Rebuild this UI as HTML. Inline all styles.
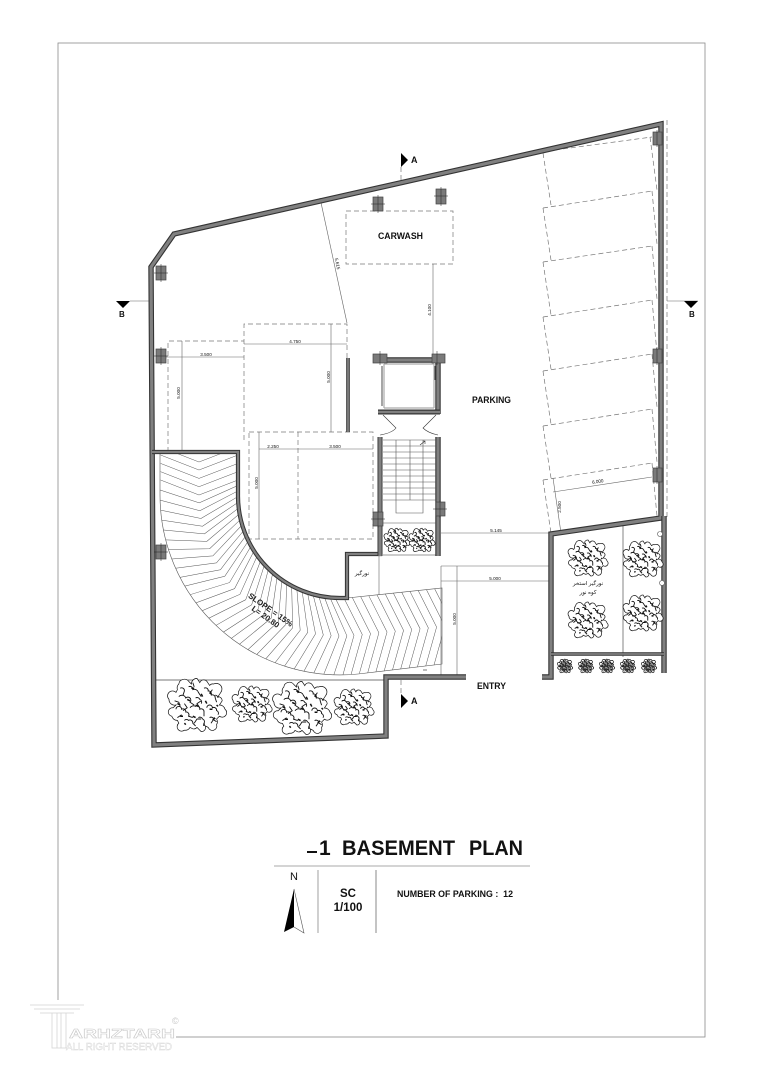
<!DOCTYPE html>
<html><head><meta charset="utf-8"><style>
html,body{margin:0;padding:0;background:#fff}
svg{display:block}
text{font-family:"Liberation Sans","Noto Sans CJK SC","DejaVu Sans",sans-serif;fill:#111}
.d{fill:none;stroke:#777;stroke-width:.7;stroke-dasharray:5 3}
.t{fill:none;stroke:#666;stroke-width:.6}
.dl{font-size:4.6px;fill:#555;text-anchor:middle}
.w1{fill:none;stroke:#333;stroke-width:5.4;stroke-linejoin:miter}
.w2{fill:none;stroke:#808080;stroke-width:3.2;stroke-linejoin:miter}
.c{fill:#7a7a7a;stroke:#444;stroke-width:.7}
.b{font-weight:bold;font-size:9px}
</style></head><body>
<svg width="764" height="1080" viewBox="0 0 764 1080" xmlns="http://www.w3.org/2000/svg">
<defs>
<clipPath id="rc"><path d="M160,452 L237,452 L237,495 A103,103 0 0 0 340,598 L347,598 L442,588 L442,664 L358,674 A180,180 0 0 1 160,495 Z"/></clipPath>
<polyline id="ch" points="160.6,480 199,495 238,480" fill="none" stroke="#555" stroke-width=".5"/>
<g id="tr" fill="none" stroke="#111">
<path vector-effect="non-scaling-stroke" stroke-width=".7" fill="#fff" d="M0,-19 L2,-16 A3,3 0 0 1 7,-17 L9,-14 A3,3 0 0 1 12,-15 A4,4 0 0 1 17,-9 L15,-6 A3,3 0 0 1 18,-3 L16,0 A4,4 0 0 1 20,3 A3,3 0 0 1 16,8 L14,10 A4,4 0 0 1 14,14 A3,3 0 0 1 8,16 L6,15 A3,3 0 0 1 3,19 L0,16 A3,3 0 0 1 -3,17 L-5,16 A4,4 0 0 1 -9,18 A3,3 0 0 1 -13,13 L-14,11 A4,4 0 0 1 -18,8 A3,3 0 0 1 -17,2 L-15,0 A4,4 0 0 1 -20,-4 A3,3 0 0 1 -15,-9 L-14,-11 A4,4 0 0 1 -13,-15 A4,4 0 0 1 -6,-17 L-4,-15 A4,4 0 0 1 0,-19 Z"/>
<path vector-effect="non-scaling-stroke" stroke-width=".9" d="M-13,-6 a3,3 0 0 1 5,1 a2,2 0 0 1 3,3 l3,2 M-6,-13 a2,2 0 0 1 3,2 a3,3 0 0 1 4,2 l2,3 M5,-12 a2,2 0 0 1 3,2 a2,2 0 0 1 2,3 a2,2 0 0 1 3,2 l1,3 M-15,3 a2,2 0 0 1 4,0 a2,2 0 0 1 3,2 a2,2 0 0 1 2,3 l3,1 M-5,2 a3,3 0 0 1 4,-1 a2,2 0 0 1 3,2 a2,2 0 0 1 3,2 l0,3 M7,2 a2,2 0 0 1 4,0 a2,2 0 0 1 3,2 a2,2 0 0 1 1,3 M-9,11 a2,2 0 0 1 3,0 a2,2 0 0 1 3,2 l2,2 M1,9 a2,2 0 0 1 3,1 a2,2 0 0 1 1,3 M9,9 a2,2 0 0 1 3,1 l-2,3 M-1,-5 a2,2 0 0 1 3,1 a2,2 0 0 1 1,3 M-12,-12 a2,2 0 0 1 3,2 l-1,3 M13,-7 a2,2 0 0 1 2,2 M-16,-3 l3,1 l1,3 M-3,-16 l1,3 M3,-3 l-3,2 l2,3 M-9,-1 l2,3 l-3,2 M11,-11 l-2,3 M14,12 l-3,-2 M-2,13 l2,-3 l3,0 M-14,9 l3,-2"/>
<path vector-effect="non-scaling-stroke" stroke-width="1.5" d="M-7,-4 l2,1 M3,-8 l1,2 M9,3 l2,0 M-3,8 l2,1 M12,9 l1,1 M-12,8 l2,0 M5,13 l0,2 M-4,-12 l2,0 M-1,0 l2,1 M-14,-1 l2,1 M6,-3 l1,2 M14,0 l1,1 M-9,13 l1,1 M9,-9 l1,1"/>
</g>
</defs>
<rect width="764" height="1080" fill="#fff"/>
<rect x="58" y="43" width="647" height="994" fill="none" stroke="#8a8a8a" stroke-width=".8"/>

<!-- ramp -->
<g clip-path="url(#rc)">
<use href="#ch" transform="translate(0,-33)"/><use href="#ch" transform="translate(0,-25)"/><use href="#ch" transform="translate(0,-16.6)"/><use href="#ch" transform="translate(0,-8.3)"/>
<use href="#ch"/>
<use href="#ch" transform="rotate(-3.2 340 495)"/><use href="#ch" transform="rotate(-6.4 340 495)"/><use href="#ch" transform="rotate(-9.6 340 495)"/><use href="#ch" transform="rotate(-12.8 340 495)"/><use href="#ch" transform="rotate(-16 340 495)"/>
<use href="#ch" transform="rotate(-19.2 340 495)"/><use href="#ch" transform="rotate(-22.4 340 495)"/><use href="#ch" transform="rotate(-25.6 340 495)"/><use href="#ch" transform="rotate(-28.8 340 495)"/><use href="#ch" transform="rotate(-32 340 495)"/>
<use href="#ch" transform="rotate(-35.2 340 495)"/><use href="#ch" transform="rotate(-38.4 340 495)"/><use href="#ch" transform="rotate(-41.6 340 495)"/><use href="#ch" transform="rotate(-44.8 340 495)"/><use href="#ch" transform="rotate(-48 340 495)"/>
<use href="#ch" transform="rotate(-51.2 340 495)"/><use href="#ch" transform="rotate(-54.4 340 495)"/><use href="#ch" transform="rotate(-57.6 340 495)"/><use href="#ch" transform="rotate(-60.8 340 495)"/><use href="#ch" transform="rotate(-64 340 495)"/>
<use href="#ch" transform="rotate(-67.2 340 495)"/><use href="#ch" transform="rotate(-70.4 340 495)"/><use href="#ch" transform="rotate(-73.6 340 495)"/><use href="#ch" transform="rotate(-76.8 340 495)"/><use href="#ch" transform="rotate(-80 340 495)"/>
<use href="#ch" transform="rotate(-83.2 340 495)"/><use href="#ch" transform="rotate(-86.4 340 495)"/><use href="#ch" transform="rotate(-89.6 340 495)"/><use href="#ch" transform="rotate(-92.8 340 495)"/><use href="#ch" transform="rotate(-95.7 340 495)"/>
<use href="#ch" transform="rotate(-95.7 340 495) translate(0,8.3)"/><use href="#ch" transform="rotate(-95.7 340 495) translate(0,16.6)"/><use href="#ch" transform="rotate(-95.7 340 495) translate(0,25)"/><use href="#ch" transform="rotate(-95.7 340 495) translate(0,33.2)"/><use href="#ch" transform="rotate(-95.7 340 495) translate(0,41.5)"/>
<use href="#ch" transform="rotate(-95.7 340 495) translate(0,49.8)"/><use href="#ch" transform="rotate(-95.7 340 495) translate(0,58)"/><use href="#ch" transform="rotate(-95.7 340 495) translate(0,66.4)"/><use href="#ch" transform="rotate(-95.7 340 495) translate(0,74.7)"/><use href="#ch" transform="rotate(-95.7 340 495) translate(0,83)"/><use href="#ch" transform="rotate(-95.7 340 495) translate(0,91.3)"/><use href="#ch" transform="rotate(-95.7 340 495) translate(0,99.6)"/>
</g>
<path d="M160,452 L160,495 A180,180 0 0 0 358,674 L442,664 L442,588 L347,598" fill="none" stroke="#555" stroke-width=".6"/>

<!-- dashed areas -->
<g class="d">
<rect x="346" y="211" width="107" height="53"/>
<path d="M244,440 V324 H347 V358"/>
<path d="M168,452 V341 H244"/>
<rect x="249" y="432" width="124" height="107"/>
<path d="M298,432 V539"/>
<path d="M401,167 V181 M401,680 V694"/>
<path d="M667,120 V517"/>
<path d="M555,150 L652,137 M543,208 L652,191 M543,262 L652,246 M543,317 L652,300 M543,371 L652,354 M543,426 L652,409 M543,480 L652,463"/>
<path d="M543,153 L551,205 M543,208 L551,260 M543,262 L551,315 M543,317 L551,369 M543,371 L551,424 M543,426 L551,478 M543,480 L551,533"/>
<path d="M650,137 L657,190 M652,191 L657,244 M652,246 L657,299 M652,300 L657,353 M652,354 L657,407 M652,409 L657,462 M652,463 L657,516"/>
</g>

<!-- dimension lines -->
<g class="t">
<path d="M320,198 L347,323"/>
<path d="M433,264 V358"/>
<path d="M244,344 H347"/>
<path d="M156,357 H244"/>
<path d="M182,341 V452"/>
<path d="M331,324 V432"/>
<path d="M259,449 H373"/>
<path d="M259,432 V539"/>
<path d="M441,533 H551"/>
<path d="M441,566 H551 M441,581 H551"/>
<path d="M441,566 V676 M457,566 V676"/>
<path d="M553,492 L652,477"/>
<path d="M553,478 L561,533"/>
<path d="M379,553 V595"/>
<path d="M130,301 H150 M667,301 H698"/>
<path d="M152,680 H385" stroke="#777" stroke-width=".9"/>
<path d="M623,525 V657" stroke="#333"/>
<path d="M427,670 H423" stroke="#222"/>
</g>
<g class="dl">
<text x="273" y="448">2.250</text>
<text x="335" y="448">3.500</text>
<text x="295" y="343">4.750</text>
<text x="206" y="356">3.500</text>
<text transform="translate(180,393) rotate(-90)">5.000</text>
<text transform="translate(330,377) rotate(-90)">5.000</text>
<text transform="translate(258,483) rotate(-90)">5.000</text>
<text transform="translate(431,310) rotate(-90)">4.100</text>
<text transform="translate(336,264) rotate(78)">5.615</text>
<text x="496" y="532">5.145</text>
<text x="495" y="580">5.000</text>
<text transform="translate(456,619) rotate(-90)">5.000</text>
<text transform="translate(598,483) rotate(-8.5)">6.000</text>
<text transform="translate(561,507) rotate(-90)">2.500</text>
</g>

<!-- walls -->
<g>
<path class="w1" d="M466,677 H386 V736 L154,745 L151,267 L174,234 L661,124 L661,518 L551,534 V677 H542"/>
<path class="w2" d="M466,677 H386 V736 L154,745 L151,267 L174,234 L661,124 L661,518 L551,534 V677 H542"/>
<path class="w1" style="stroke-width:4.2" d="M152,452 H238 V495 A102,102 0 0 0 340,598 H347 V554 H380 V437"/>
<path class="w2" style="stroke-width:2.2" d="M152,452 H238 V495 A102,102 0 0 0 340,598 H347 V554 H380 V437"/>
<path class="w1" d="M664,516 V673"/><path class="w2" d="M664,516 V673"/>
<path class="w1" style="stroke-width:3.6" d="M551,654 H664"/><path class="w2" style="stroke-width:1.8" d="M551,654 H664"/>
<path class="w1" d="M438,437 V556"/><path class="w2" d="M438,437 V556"/>
<path class="w1" d="M380,437 V556" style="stroke-width:5"/><path class="w2" d="M380,437 V556"/>
<path class="w1" d="M348,358 V432" style="stroke-width:3.6"/><path class="w2" d="M348,358 V432" style="stroke-width:1.8"/>
<path class="w1" d="M374,360 H438 V414"/><path class="w2" d="M374,360 H438 V414"/>
<path class="w1" d="M378,412 H440" style="stroke-width:5"/><path class="w2" d="M378,412 H440" style="stroke-width:2.6"/>
<path d="M384,364 H434 M384,408 H434 M384,364 V408 M434,364 V408" stroke="#aaa" stroke-width="1.2" fill="none"/>
<path d="M382,366 V406 M435,366 V380" stroke="#222" stroke-width=".8" fill="none"/>
</g>

<!-- columns -->
<g class="c">
<rect x="156" y="266" width="10" height="14"/><rect x="156" y="349" width="10" height="14"/><rect x="156" y="545" width="10" height="14"/>
<rect x="373" y="197" width="10" height="14"/><rect x="436" y="189" width="10" height="15"/>
<rect x="373" y="512" width="10" height="14"/><rect x="436" y="502" width="9" height="14"/>
<rect x="653" y="132" width="9" height="13"/><rect x="653" y="349" width="9" height="14"/><rect x="653" y="468" width="9" height="14"/>
<rect x="373" y="354" width="14" height="9"/><rect x="432" y="354" width="13" height="9"/>
</g>
<path d="M161,264 V282 M154,273 H168 M161,347 V365 M154,356 H168 M161,543 V561 M154,552 H168 M378,195 V213 M371,204 H385 M441,187 V206 M434,196 H448 M378,510 V528 M371,519 H385 M440,500 V518 M433,509 H447 M657,347 V365 M657,466 V484 M657,130 V147 M380,351 V365 M437,351 V365" stroke="#222" stroke-width=".5" fill="none"/>

<!-- stairs -->
<g fill="none" stroke="#555" stroke-width=".6">
<path d="M383,440 H436 M383,446 H436 M383,452 H436 M383,458 H436 M383,464 H436 M383,470 H436 M383,476 H436 M383,482 H436 M383,488 H436 M383,494 H436 M383,500 H436"/>
<path d="M396,440 V513 H423 V440 M410,440 V500"/>
<path d="M383,523 H436"/>
<path d="M420,445 L425,441 M423,441 H425 V444" stroke="#333"/>
<path d="M383,415 L396,428 Q392,433 380,435 M436,415 L423,428 Q428,433 438,435" stroke="#333"/>
<path d="M383,555 H436" stroke="#333"/>
</g>

<!-- trees -->
<use href="#tr" transform="translate(397,540) scale(.62)"/>
<use href="#tr" transform="translate(422,540) scale(.62)"/>
<use href="#tr" transform="translate(588,558) scale(.95)"/>
<use href="#tr" transform="translate(588,620) scale(.95)"/>
<use href="#tr" transform="translate(643,559) scale(.95)"/>
<use href="#tr" transform="translate(643,613) scale(.95)"/>
<use href="#tr" transform="translate(197,705) scale(1.4)"/>
<use href="#tr" transform="translate(252,704) scale(.95)"/>
<use href="#tr" transform="translate(302,708) scale(1.4)"/>
<use href="#tr" transform="translate(354,707) scale(.95)"/>
<use href="#tr" transform="translate(565,666) scale(.36)"/><use href="#tr" transform="translate(586,666) scale(.36)"/><use href="#tr" transform="translate(607,666) scale(.36)"/><use href="#tr" transform="translate(628,666) scale(.36)"/><use href="#tr" transform="translate(649,666) scale(.36)"/>
<g fill="#333" opacity=".5"><circle cx="565" cy="666" r="5.5"/><circle cx="586" cy="666" r="5.5"/><circle cx="607" cy="666" r="5.5"/><circle cx="628" cy="666" r="5.5"/><circle cx="649" cy="666" r="5.5"/></g>
<circle cx="660" cy="534" r="2.5" fill="#fff" stroke="#555" stroke-width=".6"/>
<circle cx="662" cy="583" r="2.5" fill="#fff" stroke="#555" stroke-width=".6"/>

<!-- section marks -->
<path d="M401,153 L408,160 L401,167Z M401,694 L408,701 L401,708Z M116,301 H130 L123,308Z M684,301 H698 L691,308Z" fill="#000"/>
<text x="411" y="163" font-size="9" font-weight="bold">A</text>
<text x="411" y="704" font-size="9" font-weight="bold">A</text>
<text x="119" y="317" font-size="8" font-weight="bold">B</text>
<text x="689" y="317" font-size="8" font-weight="bold">B</text>

<!-- labels -->
<text class="b" x="378" y="239" textLength="45" lengthAdjust="spacingAndGlyphs">CARWASH</text>
<text class="b" x="472" y="403" textLength="39" lengthAdjust="spacingAndGlyphs">PARKING</text>
<text class="b" x="477" y="689" textLength="29" lengthAdjust="spacingAndGlyphs">ENTRY</text>
<text transform="translate(269,612) rotate(35)" font-size="8" text-anchor="middle" font-weight="bold" style="fill:#222">SLOPE = 15%</text>
<text transform="translate(264,619) rotate(35)" font-size="8" text-anchor="middle" font-weight="bold" style="fill:#222">L= 20.80</text>
<text x="362" y="575" font-size="5.5" text-anchor="middle">نورگير</text>
<text x="588" y="585" font-size="5.5" text-anchor="middle">نورگير استخر</text>
<text x="588" y="594" font-size="5.5" text-anchor="middle">کوه نور</text>

<!-- title block -->
<rect x="307" y="851" width="10" height="2" fill="#111"/>
<text x="319" y="855" font-size="21" font-weight="bold">1</text>
<text x="342" y="855" font-size="21" font-weight="bold" textLength="113" lengthAdjust="spacingAndGlyphs">BASEMENT</text>
<text x="469" y="855" font-size="21" font-weight="bold" textLength="54" lengthAdjust="spacingAndGlyphs">PLAN</text>
<path d="M274,866 H530" stroke="#aaa" stroke-width="1"/>
<path d="M318,870 V933" stroke="#888" stroke-width=".8"/>
<path d="M376,870 V933" stroke="#888" stroke-width="1"/>
<text x="294" y="880" font-size="11" text-anchor="middle">N</text>
<path d="M294,889 L284,932 L294,927Z" fill="#000"/>
<path d="M294,889 L304,933 L294,927" fill="none" stroke="#555" stroke-width=".6"/>
<text x="348" y="897" font-size="11.5" font-weight="bold" text-anchor="middle">SC</text>
<text x="348" y="911" font-size="11.5" font-weight="bold" text-anchor="middle">1/100</text>
<text x="397" y="897" font-size="9" font-weight="bold" textLength="116" lengthAdjust="spacingAndGlyphs" xml:space="preserve">NUMBER OF PARKING :  12</text>

<!-- watermark -->
<rect x="26" y="1000" width="150" height="54" fill="#fff"/>
<g fill="none" stroke="#d4d4d4" stroke-width=".8">
<path d="M30,1005 H84 M34,1009 H80 M40,1013 H74"/>
<path d="M52,1013 V1048 H66 V1013 M57,1013 V1048 M61,1013 V1048"/>
</g>
<text x="69" y="1038" font-size="13" font-weight="bold" textLength="106" lengthAdjust="spacingAndGlyphs" style="fill:#fff;stroke:#c8c8c8;stroke-width:.5">ARHZTARH</text>
<text x="66" y="1050" font-size="10" textLength="106" lengthAdjust="spacingAndGlyphs" style="fill:#fff;stroke:#d4d4d4;stroke-width:.4">ALL RIGHT RESERVED</text>
<text x="172" y="1024" font-size="9" style="fill:#c8c8c8">©</text>
</svg>
</body></html>
